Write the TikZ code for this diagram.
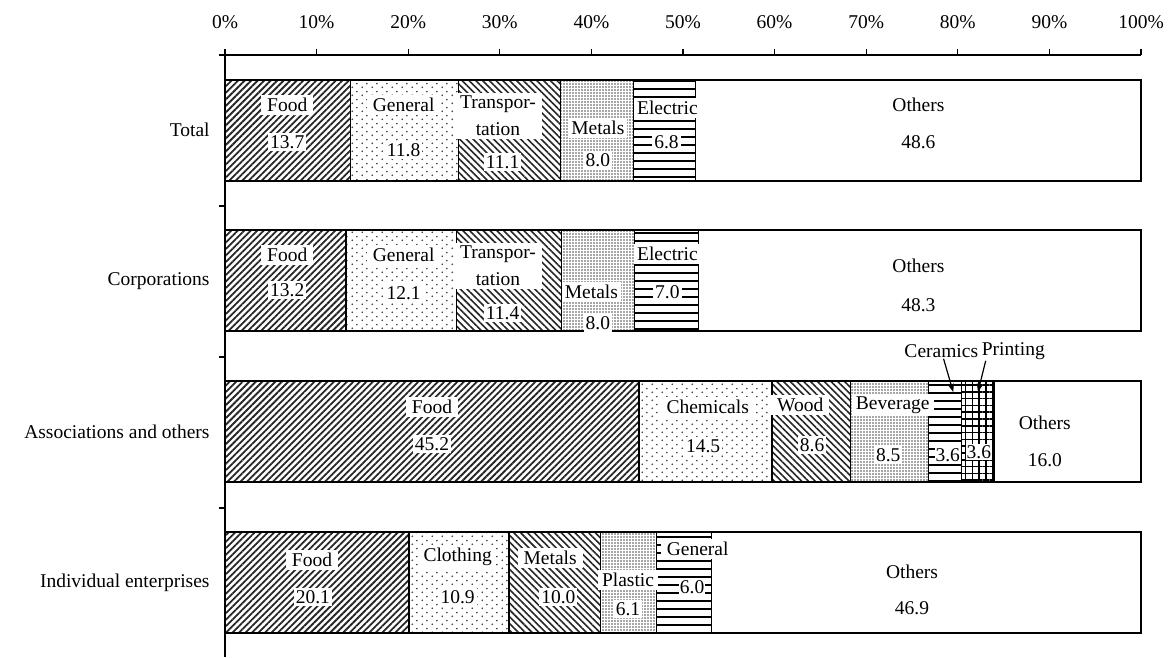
\documentclass[tikz,border=0pt]{standalone}
\usepackage{fontspec}
\setmainfont{Liberation Serif}
\usetikzlibrary{patterns.meta,arrows.meta}

\tikzdeclarepattern{
  name=SparseDots,
  type=uncolored,
  bounding box={(0pt,0pt) and (10pt,8pt)},
  tile size={(10pt,8pt)},
  code={\fill (2.5pt,2pt) circle (0.95pt); \fill (7.5pt,6pt) circle (0.95pt);}
}

\begin{document}
\begin{tikzpicture}[x=9.16pt,y=-1pt,>=Stealth,
  font=\fontsize{19.5}{27}\selectfont,
  axis/.style={line width=1.3pt},
  seg/.style={draw=black,line width=1.3pt},
  slash/.style={seg,pattern={Lines[angle=45,distance=4.6pt,line width=1.8pt]},pattern color=black!85},
  backslash/.style={seg,pattern={Lines[angle=-45,distance=4.8pt,line width=1.6pt]},pattern color=black!85},
  sparse/.style={seg,pattern=SparseDots,pattern color=black!80},
  dense/.style={seg,pattern={Dots[distance=3pt,radius=0.85pt]},pattern color=black!70},
  hlines/.style={seg,pattern={Lines[angle=0,distance=8pt,line width=2pt]},pattern color=black},
  grid/.style={seg,pattern={Hatch[angle=0,distance=6.8pt,line width=1.6pt]},pattern color=black},
  blank/.style={seg,fill=white},
  lab/.style={fill=white,inner xsep=6pt,inner ysep=3pt,align=center},
  val/.style={fill=white,inner sep=2pt},
  cat/.style={anchor=east},
  pointer/.style={->,line width=1.2pt}]
  \path[use as bounding box] (-24.563,0) rectangle (103.166,657);

  \foreach \p in {0,10,...,100}{
    \draw[axis] (\p,55) -- (\p,49);
    \node (pct\p) at (\p,22) {\p\%};
  }
  \draw[axis] (-0.65,55) -- (100,55);
  \draw[axis] (0,49) -- (0,657);
  \foreach \y in {206,357,508}
    \draw[axis] (-0.65,\y) -- (0,\y);

  \node[cat] (catTotal) at (-1.3,130) {Total};
  \node[cat] (catCorp) at (-1.3,281) {Corporations};
  \node[cat] (catAssoc) at (-1.3,432) {Associations and others};
  \node[cat] (catIndiv) at (-1.3,583) {Individual enterprises};

  \draw[slash] (0,80) rectangle (13.7,181);
  \draw[sparse] (13.7,80) rectangle (25.5,181);
  \draw[backslash] (25.5,80) rectangle (36.6,181);
  \draw[dense] (36.6,80) rectangle (44.6,181);
  \draw[hlines] (44.6,80) rectangle (51.4,181);
  \draw[blank] (51.4,80) rectangle (100,181);
  \node[lab] (totFood) at (6.8,105) {Food};
  \node[val] (totFoodV) at (6.8,142) {13.7};
  \node[lab] (totGen) at (19.5,105) {General};
  \node[val] (totGenV) at (19.5,150) {11.8};
  \node[lab] (totTra) at (29.8,116) {Transpor-\\tation};
  \node[val] (totTraV) at (30.3,162) {11.1};
  \node[lab,inner xsep=3pt] (totMet) at (40.7,128) {Metals};
  \node[val] (totMetV) at (40.7,160) {8.0};
  \node[lab,inner xsep=3pt] (totEle) at (48.3,108) {Electric};
  \node[val] (totEleV) at (48.2,142) {6.8};
  \node[lab] (totOth) at (75.7,105) {Others};
  \node[val] (totOthV) at (75.7,142) {48.6};

  \draw[slash] (0,230) rectangle (13.2,331);
  \draw[sparse] (13.2,230) rectangle (25.3,331);
  \draw[backslash] (25.3,230) rectangle (36.7,331);
  \draw[dense] (36.7,230) rectangle (44.7,331);
  \draw[hlines] (44.7,230) rectangle (51.7,331);
  \draw[blank] (51.7,230) rectangle (100,331);
  \node[lab] (corFood) at (6.8,255) {Food};
  \node[val] (corFoodV) at (6.8,290) {13.2};
  \node[lab] (corGen) at (19.5,255) {General};
  \node[val] (corGenV) at (19.5,293) {12.1};
  \node[lab] (corTra) at (29.8,266) {Transpor-\\tation};
  \node[val] (corTraV) at (30.3,313) {11.4};
  \node[lab,inner xsep=3pt] (corMet) at (40.0,292) {Metals};
  \node[val] (corMetV) at (40.7,323) {8.0};
  \node[lab,inner xsep=3pt] (corEle) at (48.3,254) {Electric};
  \node[val] (corEleV) at (48.3,292) {7.0};
  \node[lab] (corOth) at (75.7,266) {Others};
  \node[val] (corOthV) at (75.7,305) {48.3};

  \draw[slash] (0,381) rectangle (45.2,482);
  \draw[sparse] (45.2,381) rectangle (59.7,482);
  \draw[backslash] (59.7,381) rectangle (68.3,482);
  \draw[dense] (68.3,381) rectangle (76.8,482);
  \draw[hlines] (76.8,381) rectangle (80.4,482);
  \draw[grid] (80.4,381) rectangle (84.0,482);
  \draw[blank] (84.0,381) rectangle (100,482);
  \node[lab] (assFood) at (22.6,407) {Food};
  \node[val] (assFoodV) at (22.6,444) {45.2};
  \node[lab] (assChe) at (52.7,407) {Chemicals};
  \node[val] (assCheV) at (52.2,446) {14.5};
  \node[lab] (assWoo) at (62.8,405) {Wood};
  \node[val] (assWooV) at (64.1,445) {8.6};
  \node[lab,inner xsep=4pt] (assBev) at (72.9,405) {Beverage};
  \node[val] (assBevV) at (72.4,455) {8.5};
  \node[val,inner sep=1pt] (assCerV) at (78.9,455) {3.6};
  \node[val,inner sep=1pt] (assPrtV) at (82.3,452) {3.6};
  \node[lab] (assOth) at (89.5,423) {Others};
  \node[val] (assOthV) at (89.5,460) {16.0};
  \node[inner sep=1pt] (assCer) at (78.2,351) {Ceramics};
  \node[inner sep=1pt,anchor=west] (assPrt) at (82.5,351) {Printing};
  \coordinate (cerTip) at (79.5,392);
  \coordinate (prtTip) at (82.2,392);
  \draw[pointer] (assCer) -- (cerTip);
  \draw[pointer] ([xshift=5pt]assPrt.south west) -- (prtTip);

  \draw[slash] (0,532) rectangle (20.1,633);
  \draw[sparse] (20.1,532) rectangle (31.0,633);
  \draw[backslash] (31.0,532) rectangle (41.0,633);
  \draw[dense] (41.0,532) rectangle (47.1,633);
  \draw[hlines] (47.1,532) rectangle (53.1,633);
  \draw[blank] (53.1,532) rectangle (100,633);
  \node[lab] (indFood) at (9.5,560) {Food};
  \node[val] (indFoodV) at (9.6,597) {20.1};
  \node[lab,inner xsep=3pt] (indClo) at (25.4,557) {Clothing};
  \node[val] (indCloV) at (25.4,597) {10.9};
  \node[lab] (indMet) at (35.5,558) {Metals};
  \node[val] (indMetV) at (36.4,597) {10.0};
  \node[lab,inner xsep=4pt] (indPla) at (44.0,580) {Plastic};
  \node[val] (indPlaV) at (44.0,609) {6.1};
  \node[lab] (indGen) at (51.6,549) {General};
  \node[val,inner sep=1pt] (indGenV) at (51.0,587) {6.0};
  \node[lab] (indOth) at (75.0,572) {Others};
  \node[val] (indOthV) at (75.0,608) {46.9};
\end{tikzpicture}
\end{document}
